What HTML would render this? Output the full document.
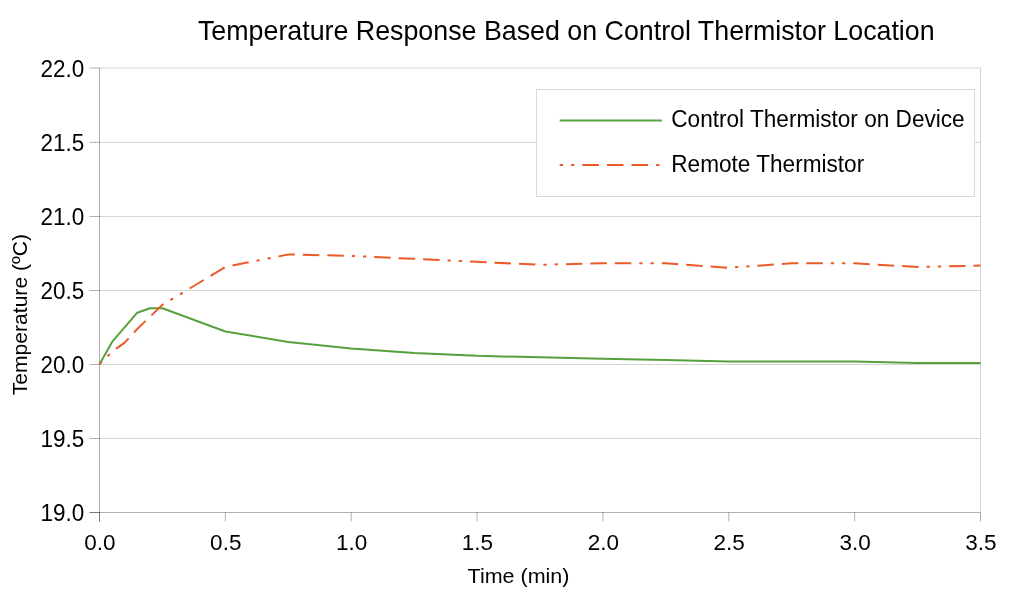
<!DOCTYPE html>
<html><head><meta charset="utf-8"><style>
html,body{margin:0;padding:0;background:#fff;}
svg{display:block;will-change:transform;}
text{font-family:"Liberation Sans", sans-serif;fill:#000;}
</style></head><body>
<svg width="1024" height="595" viewBox="0 0 1024 595" >
<rect width="1024" height="595" fill="#fff"/>
<line x1="99.5" y1="438.50" x2="980.5" y2="438.50" stroke="rgba(0,0,0,0.165)" stroke-width="1"/>
<line x1="99.5" y1="364.50" x2="980.5" y2="364.50" stroke="rgba(0,0,0,0.165)" stroke-width="1"/>
<line x1="99.5" y1="290.50" x2="980.5" y2="290.50" stroke="rgba(0,0,0,0.165)" stroke-width="1"/>
<line x1="99.5" y1="216.50" x2="980.5" y2="216.50" stroke="rgba(0,0,0,0.165)" stroke-width="1"/>
<line x1="99.5" y1="142.40" x2="980.5" y2="142.40" stroke="rgba(0,0,0,0.165)" stroke-width="1"/>
<line x1="99.5" y1="68.00" x2="980.5" y2="68.00" stroke="rgba(0,0,0,0.165)" stroke-width="1"/>
<line x1="980.5" y1="68.0" x2="980.5" y2="512.5" stroke="rgba(0,0,0,0.165)" stroke-width="1"/>
<line x1="99.5" y1="68.0" x2="99.5" y2="521.5" stroke="rgba(0,0,0,0.31)" stroke-width="1"/>
<line x1="89.5" y1="512.5" x2="980.5" y2="512.5" stroke="rgba(0,0,0,0.31)" stroke-width="1"/>
<line x1="89.5" y1="512.50" x2="99.5" y2="512.50" stroke="rgba(0,0,0,0.31)" stroke-width="1"/>
<line x1="89.5" y1="438.50" x2="99.5" y2="438.50" stroke="rgba(0,0,0,0.31)" stroke-width="1"/>
<line x1="89.5" y1="364.50" x2="99.5" y2="364.50" stroke="rgba(0,0,0,0.31)" stroke-width="1"/>
<line x1="89.5" y1="290.50" x2="99.5" y2="290.50" stroke="rgba(0,0,0,0.31)" stroke-width="1"/>
<line x1="89.5" y1="216.50" x2="99.5" y2="216.50" stroke="rgba(0,0,0,0.31)" stroke-width="1"/>
<line x1="89.5" y1="142.40" x2="99.5" y2="142.40" stroke="rgba(0,0,0,0.31)" stroke-width="1"/>
<line x1="89.5" y1="68.00" x2="99.5" y2="68.00" stroke="rgba(0,0,0,0.31)" stroke-width="1"/>
<line x1="99.50" y1="512.5" x2="99.50" y2="521.5" stroke="rgba(0,0,0,0.31)" stroke-width="1"/>
<line x1="225.36" y1="512.5" x2="225.36" y2="521.5" stroke="rgba(0,0,0,0.31)" stroke-width="1"/>
<line x1="351.21" y1="512.5" x2="351.21" y2="521.5" stroke="rgba(0,0,0,0.31)" stroke-width="1"/>
<line x1="477.07" y1="512.5" x2="477.07" y2="521.5" stroke="rgba(0,0,0,0.31)" stroke-width="1"/>
<line x1="602.93" y1="512.5" x2="602.93" y2="521.5" stroke="rgba(0,0,0,0.31)" stroke-width="1"/>
<line x1="728.79" y1="512.5" x2="728.79" y2="521.5" stroke="rgba(0,0,0,0.31)" stroke-width="1"/>
<line x1="854.64" y1="512.5" x2="854.64" y2="521.5" stroke="rgba(0,0,0,0.31)" stroke-width="1"/>
<line x1="980.50" y1="512.5" x2="980.50" y2="521.5" stroke="rgba(0,0,0,0.31)" stroke-width="1"/>
<text transform="translate(84.30,521.30) scale(1.0,1.05)" text-anchor="end" font-size="22.5">19.0</text>
<text transform="translate(84.30,447.26) scale(1.0,1.05)" text-anchor="end" font-size="22.5">19.5</text>
<text transform="translate(84.30,373.22) scale(1.0,1.05)" text-anchor="end" font-size="22.5">20.0</text>
<text transform="translate(84.30,299.18) scale(1.0,1.05)" text-anchor="end" font-size="22.5">20.5</text>
<text transform="translate(84.30,225.13) scale(1.0,1.05)" text-anchor="end" font-size="22.5">21.0</text>
<text transform="translate(84.30,151.09) scale(1.0,1.05)" text-anchor="end" font-size="22.5">21.5</text>
<text transform="translate(84.30,77.05) scale(1.0,1.05)" text-anchor="end" font-size="22.5">22.0</text>
<text transform="translate(99.90,550.40) scale(1.0,1.02)" text-anchor="middle" font-size="22.5">0.0</text>
<text transform="translate(225.76,550.40) scale(1.0,1.02)" text-anchor="middle" font-size="22.5">0.5</text>
<text transform="translate(351.61,550.40) scale(1.0,1.02)" text-anchor="middle" font-size="22.5">1.0</text>
<text transform="translate(477.47,550.40) scale(1.0,1.02)" text-anchor="middle" font-size="22.5">1.5</text>
<text transform="translate(603.33,550.40) scale(1.0,1.02)" text-anchor="middle" font-size="22.5">2.0</text>
<text transform="translate(729.19,550.40) scale(1.0,1.02)" text-anchor="middle" font-size="22.5">2.5</text>
<text transform="translate(855.04,550.40) scale(1.0,1.02)" text-anchor="middle" font-size="22.5">3.0</text>
<text transform="translate(980.90,550.40) scale(1.0,1.02)" text-anchor="middle" font-size="22.5">3.5</text>
<polyline points="99.50,364.17 112.09,341.92 137.26,312.70 149.84,308.25 162.43,308.25 225.36,331.54 288.29,341.92 351.21,348.45 414.14,352.90 477.07,355.86 540.00,357.35 602.93,358.68 665.86,360.02 728.79,361.50 791.71,361.50 854.64,361.50 917.57,362.98 980.50,362.98" fill="none" stroke="#58a03e" stroke-width="2" stroke-linejoin="round"/>
<polyline points="99.50,364.17 112.09,351.71 124.67,342.66 137.26,329.02 149.84,316.85 162.43,304.84 225.36,267.01 288.29,254.41 351.21,255.89 414.14,258.86 477.07,261.82 540.00,264.79 602.93,263.31 665.86,263.31 728.79,267.76 791.71,263.31 854.64,263.31 917.57,267.01 980.50,265.53" fill="none" stroke="#ec5a2a" stroke-width="2" stroke-dasharray="3.283 7.960 3.283 7.960 16.517 7.960 16.517 7.960 16.517 7.960" stroke-linejoin="round"/>
<rect x="536.5" y="89.5" width="438" height="107" fill="#fff" stroke="#d9d9d9" stroke-width="1"/>
<line x1="559.7" y1="120.5" x2="661.9" y2="120.5" stroke="#58a03e" stroke-width="2"/>
<line x1="559.7" y1="165" x2="661.9" y2="165" stroke="#ec5a2a" stroke-width="2" stroke-dasharray="3.3 8 3.3 8 16.6 8 16.6 8 16.6 8"/>
<text transform="translate(671.30,126.60) scale(1.0,1.02)" text-anchor="start" font-size="22.6">Control Thermistor on Device</text>
<text transform="translate(671.30,171.60) scale(1.0,1.02)" text-anchor="start" font-size="22.6">Remote Thermistor</text>
<text transform="translate(566.30,39.60) scale(1.0,1.05)" text-anchor="middle" font-size="26.8">Temperature Response Based on Control Thermistor Location</text>
<text transform="translate(518.50,583.00) scale(1.0,0.96)" text-anchor="middle" font-size="21.5">Time (min)</text>
<text transform="translate(26.9,314.65) rotate(-90) scale(1,0.97)" text-anchor="middle" font-size="21.1">Temperature (ºC)</text>
</svg>
</body></html>
